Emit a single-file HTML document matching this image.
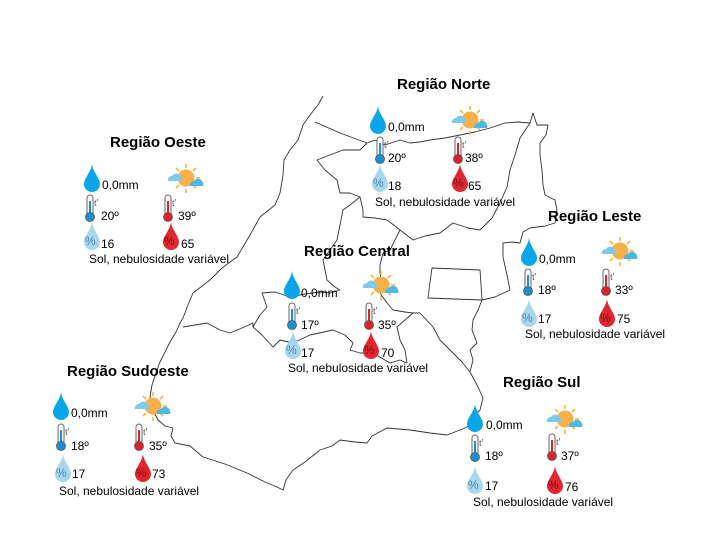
<!DOCTYPE html>
<html><head><meta charset="utf-8"><style>
html,body{margin:0;padding:0;background:#fff;}
svg{display:block;}
.t{font-family:"Liberation Sans",sans-serif;font-weight:bold;font-size:15px;fill:#000;}
.v{font-family:"Liberation Sans",sans-serif;font-size:12px;fill:#000;}
.p{font-family:"Liberation Sans",sans-serif;font-size:12px;}
.tt{font-family:"Liberation Serif",serif;font-size:10px;fill:#555;}
</style></head><body>
<svg width="703" height="547" viewBox="0 0 703 547" xmlns="http://www.w3.org/2000/svg">
<defs>
<path id="drop" d="M8,0 C8,8 0,15 0,21 A8,8 0 0 0 16,21 C16,15 8,8 8,0Z"/>
<g id="sun">
 <g stroke="#f9b048" stroke-width="1.6">
  <line x1="18" y1="0" x2="18" y2="4"/><line x1="18" y1="25" x2="18" y2="29"/>
  <line x1="4" y1="14" x2="8" y2="14"/><line x1="28" y1="14" x2="32" y2="14"/>
  <line x1="8" y1="4" x2="11" y2="7"/><line x1="25" y1="21" x2="28" y2="24"/>
  <line x1="28" y1="4" x2="25" y2="7"/><line x1="8" y1="24" x2="11" y2="21"/>
 </g>
 <circle cx="18" cy="14" r="8.5" fill="#f9b048"/>
 <path d="M0,17 a4,4 0 0 1 4,-5 a5,5 0 0 1 9,1 a3,3 0 0 1 1,4 z" fill="#7ccbee"/>
 <path d="M22,22 a4,4 0 0 1 4,-5 a5,5 0 0 1 9,2 a3,3 0 0 1 0,3 z" fill="#4db7e6"/>
</g>
<g id="thb">
 <rect x="2" y="0" width="6" height="22" rx="3" fill="#fff" stroke="#666" stroke-width="1"/>
 <rect x="4" y="6" width="2" height="16" fill="#1a8fd6"/>
 <circle cx="5" cy="22" r="4.5" fill="#1a8fd6" stroke="#555" stroke-width="0.8"/>
 <text x="9" y="11" class="tt">t'</text>
</g>
<g id="thr">
 <rect x="2" y="0" width="6" height="22" rx="3" fill="#fff" stroke="#666" stroke-width="1"/>
 <rect x="4" y="6" width="2" height="16" fill="#d9232d"/>
 <circle cx="5" cy="22" r="4.5" fill="#d9232d" stroke="#555" stroke-width="0.8"/>
 <text x="9" y="11" class="tt">t'</text>
</g>
</defs>

<!-- MAP -->
<g fill="none" stroke="#333" stroke-width="0.9" stroke-linejoin="round">
<path d="M323,96 L318,105 L310,115 L303,125 L298,140 L290,150 L284,160 L283,175 L280,193 L275,205 L260,217 L250,235 L237,257 L222,268 L210,280 L193,293 L188,305 L183,318 L180,323 L176,332 L170,342 L165,352 L160,362 L157,370 L152,385 L150,397 L153,410 L158,420 L165,426 L173,428 L171,436 L175,443 L190,446 L203,457 L225,464 L247,473 L265,482 L277,487 L283,490 L286,480 L293,470 L305,462 L320,450 L332,446 L340,440 L355,442 L367,443 L372,436 L387,428 L410,430 L430,433 L447,435 L460,430 L467,427 L472,418 L480,410 L483,398 L478,387 L470,372 L473,360 L470,350 L477,343 L472,330 L473,320 L478,310 L482,300 L495,297 L510,290 L507,275 L503,257 L503,243 L512,242 L520,243 L523,232 L530,228 L545,226 L555,223 L557,210 L555,200 L545,195 L543,185 L542,170 L540,155 L540,143 L546,135 L548,125 L537,125 L533,113 L530,123 L518,122 L505,123 L490,128 L475,132 L460,135 L445,138 L430,140 L420,142 L410,143 L400,140 L385,145 L375,140 L367,143"/>
<path d="M315,122 L340,133 L367,143 L360,150 L343,150 L330,155 L317,160 L325,170 L337,180 L340,193 L350,193 L360,197 L363,210 L363,217 L375,218 L387,220 L395,226 L400,230 L413,240 L425,236 L440,233 L453,223 L468,228 L480,230 L492,218 L500,203 L507,187 L510,170 L515,155 L520,138 L530,123"/>
<path d="M360,197 L350,205 L343,210 L340,225 L337,240 L330,250 L323,260 L325,270 L327,280 L335,287 L340,290 L330,293 L320,292 L305,294 L290,297 L275,292 L262,293 L267,307 L260,315 L253,327 L262,335 L273,347 L280,340 L293,343 L310,335 L333,330 L345,335 L353,343 L350,350 L360,353 L373,353 L390,363 L400,360 L407,363 L405,350 L400,340 L397,327 L405,320 L413,313 L420,313 L433,327 L440,340 L453,353 L462,362 L470,372"/>
<path d="M400,230 L395,240 L390,250 L383,253 L380,265 L380,273 L382,283 L380,293 L387,303 L393,310 L405,312 L413,313"/>
<path d="M183,327 L195,325 L207,323 L220,330 L230,333 L242,328 L253,323 L253,327"/>
<path d="M482,300 L480,270 L432,268 L430,282 L428,298 L482,300"/>
</g>

<!-- Titles -->
<text class="t" x="110" y="147">Região Oeste</text>
<text class="t" x="397" y="89">Região Norte</text>
<text class="t" x="304" y="256">Região Central</text>
<text class="t" x="548" y="221">Região Leste</text>
<text class="t" x="67" y="376">Região Sudoeste</text>
<text class="t" x="503" y="387">Região Sul</text>

<g transform="translate(84,163)">
<use href="#drop" fill="#0aa6e9"/><text class="v" x="18" y="26">0,0mm</text>
<use href="#sun" x="84" y="1"/>
<use href="#thb" x="1" y="32"/><text class="v" x="17" y="57">20º</text>
<use href="#thr" x="79" y="32"/><text class="v" x="94" y="57">39º</text>
<use href="#drop" x="0" y="58" fill="#a6d7ef"/><text class="p" x="1" y="82" fill="#4a87ad">%</text><text class="v" x="17" y="85">16</text>
<use href="#drop" x="79" y="58" fill="#e0262f"/><text class="p" x="80" y="82" fill="#7a1015">%</text><text class="v" x="97" y="85">65</text>
<text class="v" x="5" y="100">Sol, nebulosidade variável</text>
</g>

<g transform="translate(370,105)">
<use href="#drop" fill="#0aa6e9"/><text class="v" x="18" y="26">0,0mm</text>
<use href="#sun" x="82" y="1"/>
<use href="#thb" x="5" y="32"/><text class="v" x="18" y="57">20º</text>
<use href="#thr" x="83" y="32"/><text class="v" x="95" y="57">38º</text>
<use href="#drop" x="2" y="58" fill="#a6d7ef"/><text class="p" x="3" y="82" fill="#4a87ad">%</text><text class="v" x="18" y="85">18</text>
<use href="#drop" x="82" y="58" fill="#e0262f"/><text class="p" x="83" y="82" fill="#7a1015">%</text><text class="v" x="98" y="85">65</text>
<text class="v" x="5" y="101">Sol, nebulosidade variável</text>
</g>

<g transform="translate(284,270)">
<use href="#drop" fill="#0aa6e9"/><text class="v" x="17" y="27">0,0mm</text>
<use href="#sun" x="79" y="1"/>
<use href="#thb" x="3" y="33"/><text class="v" x="17" y="59">17º</text>
<use href="#thr" x="80" y="33"/><text class="v" x="94" y="59">35º</text>
<use href="#drop" x="1" y="60" fill="#a6d7ef"/><text class="p" x="2" y="84" fill="#4a87ad">%</text><text class="v" x="17" y="87">17</text>
<use href="#drop" x="79" y="60" fill="#e0262f"/><text class="p" x="80" y="84" fill="#7a1015">%</text><text class="v" x="97" y="87">70</text>
<text class="v" x="4" y="102">Sol, nebulosidade variável</text>
</g>

<g transform="translate(521,237)">
<use href="#drop" fill="#0aa6e9"/><text class="v" x="18" y="26">0,0mm</text>
<use href="#sun" x="81" y="0"/>
<use href="#thb" x="2" y="32"/><text class="v" x="17" y="57">18º</text>
<use href="#thr" x="80" y="32"/><text class="v" x="94" y="57">33º</text>
<use href="#drop" x="0" y="61" fill="#a6d7ef"/><text class="p" x="1" y="85" fill="#4a87ad">%</text><text class="v" x="17" y="86">17</text>
<use href="#drop" x="78" y="61" fill="#e0262f"/><text class="p" x="79" y="85" fill="#7a1015">%</text><text class="v" x="96" y="86">75</text>
<text class="v" x="4" y="101">Sol, nebulosidade variável</text>
</g>

<g transform="translate(53,391)">
<use href="#drop" fill="#0aa6e9"/><text class="v" x="18" y="26">0,0mm</text>
<use href="#sun" x="82" y="1"/>
<use href="#thb" x="3" y="33"/><text class="v" x="18" y="59">18º</text>
<use href="#thr" x="81" y="33"/><text class="v" x="96" y="59">35º</text>
<use href="#drop" x="2" y="62" fill="#a6d7ef"/><text class="p" x="3" y="86" fill="#4a87ad">%</text><text class="v" x="19" y="87">17</text>
<use href="#drop" x="82" y="62" fill="#e0262f"/><text class="p" x="83" y="86" fill="#7a1015">%</text><text class="v" x="99" y="87">73</text>
<text class="v" x="6" y="104">Sol, nebulosidade variável</text>
</g>

<g transform="translate(467,403)">
<use href="#drop" fill="#0aa6e9"/><text class="v" x="19" y="26">0,0mm</text>
<use href="#sun" x="80" y="2"/>
<use href="#thb" x="3" y="32"/><text class="v" x="18" y="57">18º</text>
<use href="#thr" x="80" y="31"/><text class="v" x="94" y="57">37º</text>
<use href="#drop" x="0" y="62" fill="#a6d7ef"/><text class="p" x="1" y="86" fill="#4a87ad">%</text><text class="v" x="18" y="87">17</text>
<use href="#drop" x="80" y="62" fill="#e0262f"/><text class="p" x="81" y="86" fill="#7a1015">%</text><text class="v" x="98" y="88">76</text>
<text class="v" x="6" y="103">Sol, nebulosidade variável</text>
</g>
</svg>
</body></html>
